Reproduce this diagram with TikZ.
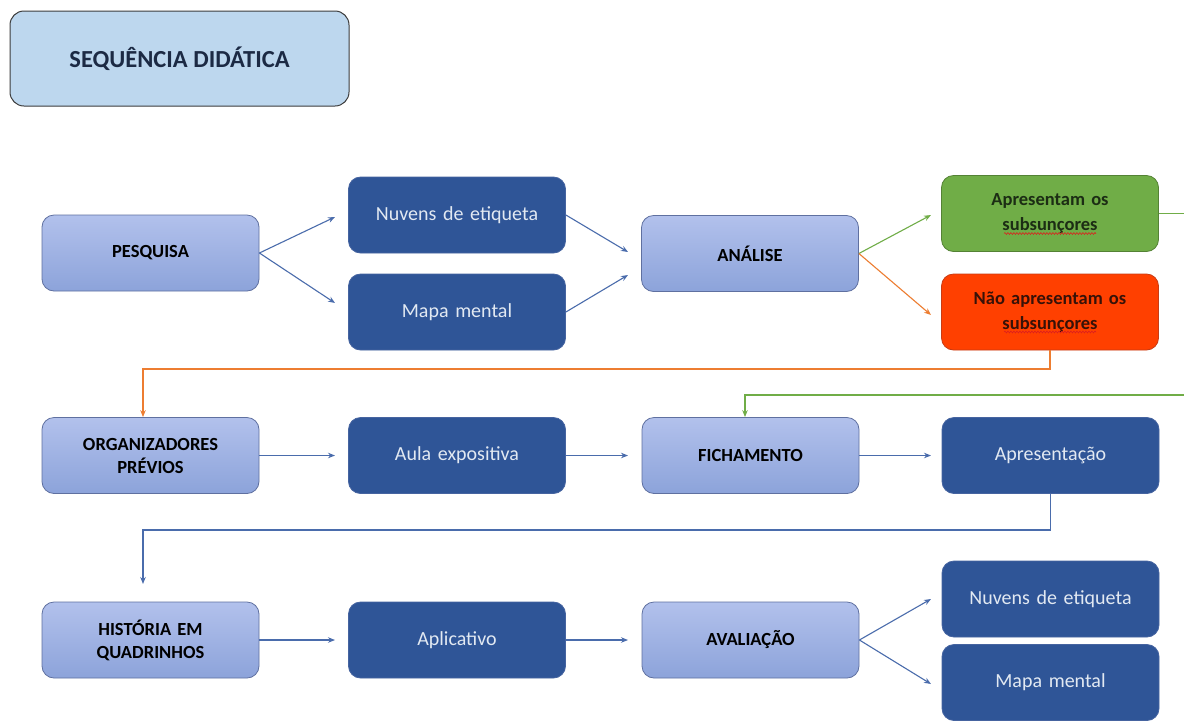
\documentclass[tikz,border=0pt]{standalone}
\usepackage{fontspec}
\setmainfont{Carlito}
\usetikzlibrary{arrows.meta,shadings,decorations.pathmorphing,calc}
\definecolor{lighttop}{RGB}{178,193,236}
\definecolor{lightbot}{RGB}{140,163,218}
\definecolor{lightborder}{RGB}{95,112,160}
\definecolor{darkfill}{RGB}{47,85,151}
\definecolor{darkborder}{RGB}{70,100,160}
\definecolor{darktext}{RGB}{226,233,242}
\definecolor{titlefill}{RGB}{189,215,238}
\definecolor{titleborder}{RGB}{60,60,60}
\definecolor{titletext}{RGB}{28,42,68}
\definecolor{greenfill}{RGB}{112,173,71}
\definecolor{greenborder}{RGB}{84,130,53}
\definecolor{greentext}{RGB}{28,45,20}
\definecolor{redfill}{RGB}{255,64,0}
\definecolor{redborder}{RGB}{200,60,20}
\definecolor{redtext}{RGB}{55,18,8}
\definecolor{conblue}{RGB}{74,108,172}
\definecolor{congreen}{RGB}{112,173,71}
\definecolor{conorange}{RGB}{237,125,49}
\definecolor{spellred}{RGB}{220,30,30}
\tikzset{
  box/.style={rounded corners=12pt, minimum width=217pt, minimum height=76pt,
    inner sep=2pt, align=center, text width=205pt, line width=0.8pt},
  lightbox/.style={box, draw=lightborder, top color=lighttop, bottom color=lightbot,
    font=\fontsize{18.5}{23}\selectfont\bfseries, text=black},
  darkbox/.style={box, draw=darkborder, fill=darkfill,
    font=\fontsize{20}{24}\selectfont, text=darktext},
  titlebox/.style={rounded corners=14pt, minimum width=339pt, minimum height=95pt,
    draw=titleborder, fill=titlefill, line width=1pt,
    font=\fontsize{24.5}{28}\selectfont\bfseries, text=titletext},
  greenbox/.style={box, draw=greenborder, fill=greenfill,
    font=\fontsize{18.5}{25}\selectfont\bfseries, text=greentext},
  redbox/.style={box, draw=redborder, fill=redfill,
    font=\fontsize{18.5}{25}\selectfont\bfseries, text=redtext},
  conn/.style={line width=1.1pt, -{Stealth[length=7pt,width=5.5pt]}},
  bconn/.style={conn, draw=conblue},
  gconn/.style={conn, draw=congreen},
  oconn/.style={conn, draw=conorange},
  spell/.style={draw=spellred, line width=0.6pt,
    decorate, decoration={snake, amplitude=0.9pt, segment length=3pt}},
}
\begin{document}
\begin{tikzpicture}[x=1pt,y=-1pt]
\useasboundingbox (0,0) rectangle (1184,724);
\fill[white] (0,0) rectangle (1184,724);
\clip (0,0) rectangle (1184,724);

% nodes
\node[titlebox] (title) at (179.5,58.5) {SEQUÊNCIA DIDÁTICA};

\node[lightbox] (pesq) at (150.5,253) {PESQUISA};
\node[darkbox] (nuv1) at (457,215) {Nuvens de etiqueta};
\node[darkbox] (mapa1) at (457,312) {Mapa mental};
\node[lightbox] (anal) at (750,253.5) {ANÁLISE};
\node[greenbox] (green) at (1050,213.5) {Apresentam os\\subsunçores};
\node[redbox] (red) at (1050,312) {Não apresentam os\\subsunçores};

\node[lightbox] (org) at (150.5,455.5) {ORGANIZADORES\\PRÉVIOS};
\node[darkbox] (aula) at (457,455.5) {Aula expositiva};
\node[lightbox] (fich) at (750.5,455.5) {FICHAMENTO};
\node[darkbox] (apres) at (1050.5,455.5) {Apresentação};

\node[lightbox] (hist) at (150.5,640) {HISTÓRIA EM\\QUADRINHOS};
\node[darkbox] (apl) at (457,640) {Aplicativo};
\node[lightbox] (aval) at (750.5,640) {AVALIAÇÃO};
\node[darkbox] (nuv2) at (1050.5,599) {Nuvens de etiqueta};
\node[darkbox] (mapa2) at (1050.5,682.5) {Mapa mental};

% spelling underlines
\draw[spell] ($(green.center)+(-46,20)$) -- ++(92,0);
\draw[spell] ($(red.center)+(-46,20)$) -- ++(92,0);

% free ends
\coordinate (t1) at (335,217);
\coordinate (t2) at (335,303);
\coordinate (t3) at (628,252);
\coordinate (t4) at (628,275);
\coordinate (t5) at (931,215);
\coordinate (t6) at (931,315);
\coordinate (t7) at (335,455.5);
\coordinate (t8) at (628,455.5);
\coordinate (t9) at (931,455.5);
\coordinate (t10) at (335,640);
\coordinate (t11) at (628,640);
\coordinate (t12) at (931,599);
\coordinate (t13) at (931,684);
\coordinate (oy) at (0,369);
\coordinate (ox) at (143,0);
\coordinate (g1) at (1200,213.5);
\coordinate (g2) at (1200,395);
\coordinate (gx) at (745,0);
\coordinate (by) at (0,530);
\coordinate (bend) at (143,584);

% connectors
\draw[bconn] (pesq.east) -- (t1);
\draw[bconn] (pesq.east) -- (t2);
\draw[bconn] (nuv1.east) -- (t3);
\draw[bconn] (mapa1.east) -- (t4);
\draw[gconn] (anal.east) -- (t5);
\draw[oconn] (anal.east) -- (t6);

\draw[oconn] (red.south) -- (red.south |- oy) -- (ox |- oy) -- (ox |- org.north);
\draw[gconn] (green.east) -- (g1) -- (g2) -- (gx |- g2) -- (gx |- fich.north);

\draw[bconn] (org.east) -- (t7);
\draw[bconn] (aula.east) -- (t8);
\draw[bconn] (fich.east) -- (t9);

\draw[bconn] (apres.south) -- (apres.south |- by) -- (ox |- by) -- (bend);

\draw[bconn] (hist.east) -- (t10);
\draw[bconn] (apl.east) -- (t11);
\draw[bconn] (aval.east) -- (t12);
\draw[bconn] (aval.east) -- (t13);
\end{tikzpicture}
\end{document}
